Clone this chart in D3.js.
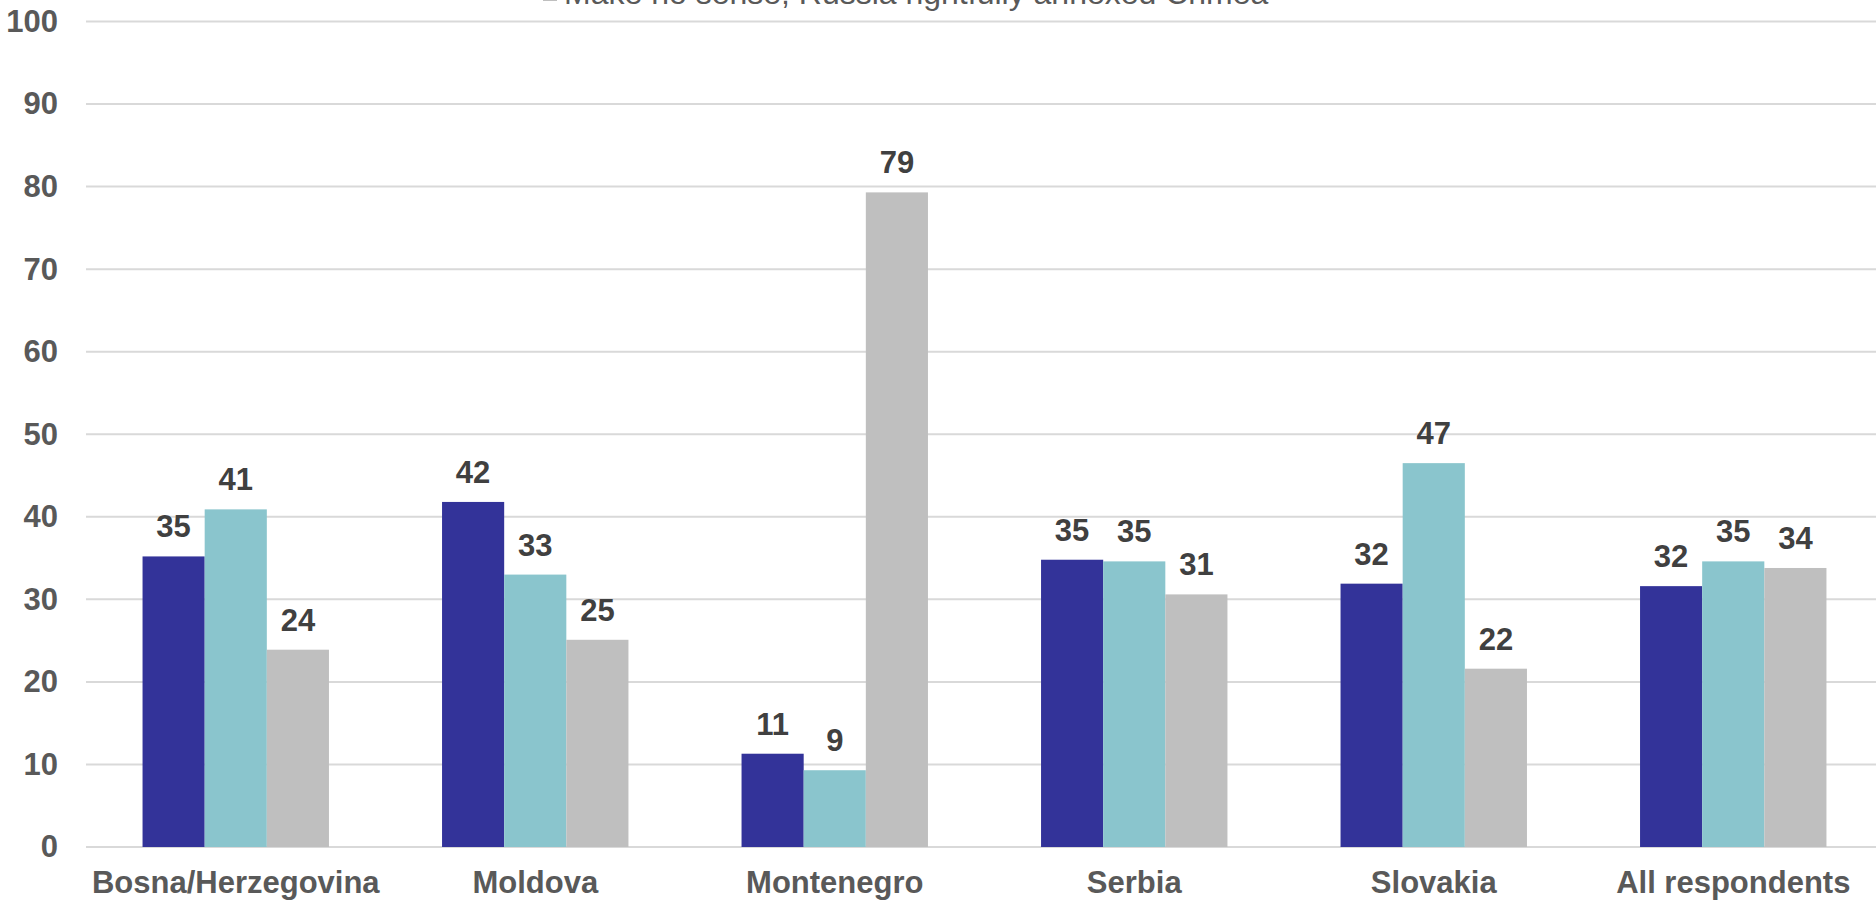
<!DOCTYPE html>
<html>
<head>
<meta charset="utf-8">
<script src="https://cdn.jsdelivr.net/npm/d3@7"></script>
<style>
  html, body { margin: 0; padding: 0; background: #fff; overflow: hidden; }
  text { font-family: "Liberation Sans", Arial, sans-serif; }
</style>
</head>
<body>
<div id="chart"></div>
<script>
const categories = ["Bosna/Herzegovina", "Moldova", "Montenegro", "Serbia", "Slovakia", "All respondents"];
const seriesNames = [
    "Sanctions are justified, Russia illegally annexed Crimea",
    "Sanctions are not effective",
    "Make no sense, Russia rightfully annexed Crimea"
];
const seriesColors = ["#333399", "#8AC5CD", "#BFBFBF"];
const justified = [35.2, 41.8, 11.3, 34.8, 31.9, 31.6];
const notEffective = [40.9, 33.0, 9.3, 34.6, 46.5, 34.6];
const noSense = [23.9, 25.1, 79.3, 30.6, 21.6, 33.8];
const yTicks = [0, 10, 20, 30, 40, 50, 60, 70, 80, 90, 100];

const seriesValues = [justified, notEffective, noSense];

const W = 1876, H = 901;
const margin = { top: 21.5, right: -7, bottom: 54, left: 86 };
const width = W - margin.left - margin.right,
      height = H - margin.top - margin.bottom;

const svg = d3.select("#chart").append("svg")
    .attr("width", W)
    .attr("height", H);

const g = svg.append("g")
    .attr("transform", `translate(${margin.left},${margin.top})`);

const x0 = d3.scaleBand().domain(categories).range([0, width]).padding(0);
const x1 = d3.scaleBand().domain(d3.range(seriesNames.length))
    .range([0, x0.bandwidth()]).paddingInner(0).paddingOuter(0.91);
const y = d3.scaleLinear().domain([0, 100]).range([height, 0]);

// gridlines
g.append("g")
  .selectAll("line")
  .data(yTicks)
  .enter().append("line")
  .attr("x1", 0)
  .attr("x2", width)
  .attr("y1", d => y(d))
  .attr("y2", d => y(d))
  .attr("stroke", "#D9D9D9")
  .attr("stroke-width", 2);

// y axis labels
const yAxis = g.append("g")
  .call(d3.axisLeft(y).tickValues(yTicks).tickSize(0).tickPadding(28));
yAxis.select(".domain").remove();
yAxis.selectAll("text")
  .style("font-size", "31px")
  .style("font-weight", "bold")
  .attr("fill", "#595959");

// x axis labels
const xAxis = g.append("g")
  .attr("transform", `translate(0,${height})`)
  .call(d3.axisBottom(x0).tickSize(0).tickPadding(24));
xAxis.select(".domain").remove();
xAxis.selectAll("text")
  .style("font-size", "31px")
  .style("font-weight", "bold")
  .attr("fill", "#595959");

// bars
const rows = [];
categories.forEach((c, ci) => {
    seriesValues.forEach((vals, si) => {
        rows.push({ cat: c, s: si, v: vals[ci] });
    });
});

g.selectAll(".bar")
  .data(rows)
  .enter().append("rect")
  .attr("class", "bar")
  .attr("x", d => x0(d.cat) + x1(d.s))
  .attr("y", d => y(d.v))
  .attr("width", x1.bandwidth())
  .attr("height", d => y(0) - y(d.v))
  .attr("fill", d => seriesColors[d.s]);

// value labels
g.selectAll(".bar-label")
  .data(rows)
  .enter().append("text")
  .attr("class", "bar-label")
  .attr("x", d => x0(d.cat) + x1(d.s) + x1.bandwidth() / 2)
  .attr("y", d => y(d.v) - 19)
  .attr("text-anchor", "middle")
  .style("font-size", "31px")
  .style("font-weight", "bold")
  .attr("fill", "#404040")
  .text(d => Math.round(d.v));

// legend (stacked lines, only the last one reaches into the picture)
const legend = svg.append("g").attr("transform", "translate(543,4)");
seriesNames.forEach((name, i) => {
    const offset = (i - (seriesNames.length - 1)) * 36;
    legend.append("rect")
      .attr("x", 0)
      .attr("y", offset - 17)
      .attr("width", 14)
      .attr("height", 14)
      .attr("fill", seriesColors[i]);
    legend.append("text")
      .attr("x", 21)
      .attr("y", offset)
      .style("font-size", "32px")
      .attr("fill", "#595959")
      .text(name);
});
</script>
</body>
</html>
